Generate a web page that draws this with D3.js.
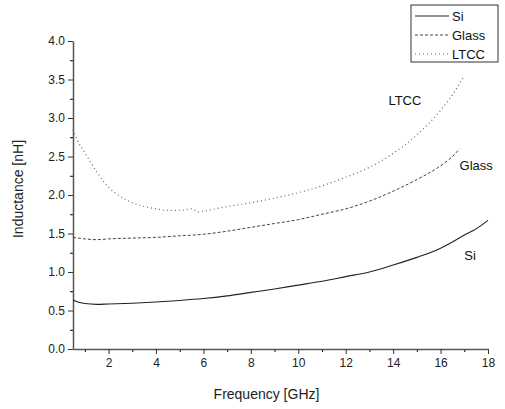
<!DOCTYPE html>
<html>
<head>
<meta charset="utf-8">
<script src="https://cdn.jsdelivr.net/npm/d3@7"></script>
<style>
  body { margin: 0; background: #fff; }
  svg { font-family: "Liberation Sans", Arial, sans-serif; }
</style>
</head>
<body>
<svg id="chart" width="505" height="409"></svg>
<script>
// frequency (GHz) and inductance (nH)
var siFreq   = [0.5, 0.7, 1.0, 1.5, 2, 3, 4, 5, 6, 7, 8, 9, 10, 11, 12, 13, 14, 15, 16, 16.5, 17, 17.5, 18];
var siL      = [0.64, 0.61, 0.59, 0.58, 0.585, 0.595, 0.61, 0.63, 0.655, 0.69, 0.735, 0.78, 0.83, 0.88, 0.94, 1.0, 1.09, 1.19, 1.31, 1.39, 1.48, 1.56, 1.67];
var glassFreq = [0.5, 1.0, 1.5, 2, 3, 4, 5, 6, 7, 8, 9, 10, 11, 12, 13, 14, 15, 16, 16.5, 16.8];
var glassL    = [1.45, 1.43, 1.42, 1.43, 1.44, 1.45, 1.47, 1.49, 1.53, 1.58, 1.63, 1.68, 1.75, 1.82, 1.92, 2.05, 2.2, 2.38, 2.5, 2.6];
var ltccFreq = [0.5, 0.7, 1.0, 1.5, 2, 2.5, 3, 3.5, 4, 4.5, 5, 5.5, 5.8, 6, 7, 8, 9, 10, 11, 12, 13, 14, 15, 16, 16.5, 17];
var ltccL    = [2.85, 2.7, 2.55, 2.3, 2.1, 1.98, 1.9, 1.85, 1.82, 1.8, 1.8, 1.82, 1.78, 1.79, 1.85, 1.9, 1.96, 2.03, 2.12, 2.23, 2.36, 2.54, 2.78, 3.1, 3.3, 3.55];
var seriesNames = ['Si', 'Glass', 'LTCC'];
var xTicks = [2, 4, 6, 8, 10, 12, 14, 16, 18];
var yTicks = [0.0, 0.5, 1.0, 1.5, 2.0, 2.5, 3.0, 3.5, 4.0];

var svg = d3.select('#chart');
var margin = { left: 73, right: 17, top: 41, bottom: 60 };
var width = 505 - margin.left - margin.right;
var height = 409 - margin.top - margin.bottom;

var xScale = d3.scaleLinear().domain([0.5, 18]).range([0, width]);
var yScale = d3.scaleLinear().domain([0, 4]).range([height, 0]);

var g = svg.append('g').attr('transform', `translate(${margin.left},${margin.top})`);

// minor ticks
var xMinor = d3.range(1, 18, 2);
var yMinor = d3.range(0.25, 4, 0.5);
g.append('g').attr('transform', `translate(0,${height})`)
  .call(d3.axisBottom(xScale).tickValues(xMinor).tickSize(3).tickFormat(''))
  .call(a => a.select('.domain').remove());
g.append('g')
  .call(d3.axisLeft(yScale).tickValues(yMinor).tickSize(3).tickFormat(''))
  .call(a => a.select('.domain').remove());

// main axes
var xAxis = g.append('g').attr('transform', `translate(0,${height})`)
  .call(d3.axisBottom(xScale).tickValues(xTicks).tickSize(5).tickSizeOuter(0).tickPadding(4));
var yAxis = g.append('g')
  .call(d3.axisLeft(yScale).tickValues(yTicks).tickSize(5).tickSizeOuter(0).tickPadding(3)
    .tickFormat(d3.format('.1f')));
[xAxis, yAxis].forEach(a => {
  a.selectAll('text').style('font-size', '12px').attr('fill', '#222');
  a.selectAll('line').attr('stroke', '#333');
  a.select('.domain').attr('stroke', '#555').attr('stroke-width', 1.5);
});

// curves
var styles = [
  { stroke: '#222', dash: null, width: 1.1 },
  { stroke: '#444', dash: '3,2', width: 1 },
  { stroke: '#666', dash: '1,3', width: 1.2 }
];
var sets = [
  d3.zip(siFreq, siL),
  d3.zip(glassFreq, glassL),
  d3.zip(ltccFreq, ltccL)
];
var line = d3.line()
  .x(d => xScale(d[0]))
  .y(d => yScale(d[1]))
  .curve(d3.curveMonotoneX);
sets.forEach((s, i) => {
  g.append('path')
    .datum(s)
    .attr('fill', 'none')
    .attr('stroke', styles[i].stroke)
    .attr('stroke-width', styles[i].width)
    .attr('stroke-dasharray', styles[i].dash)
    .attr('d', line);
});

// in-plot labels
var labelPos = [[17.0, 1.15], [16.8, 2.32], [13.8, 3.17]];
seriesNames.forEach((n, i) => {
  g.append('text')
    .attr('x', xScale(labelPos[i][0]))
    .attr('y', yScale(labelPos[i][1]))
    .style('font-size', '13px')
    .attr('fill', '#111')
    .text(n);
});

// axis titles
svg.append('text')
  .attr('x', margin.left + width / 2 - 14)
  .attr('y', 399)
  .attr('text-anchor', 'middle')
  .style('font-size', '14px')
  .attr('fill', '#222')
  .text('Frequency [GHz]');
svg.append('text')
  .attr('transform', 'rotate(-90)')
  .attr('x', -189)
  .attr('y', 23)
  .attr('text-anchor', 'middle')
  .style('font-size', '14px')
  .attr('fill', '#222')
  .text('Inductance [nH]');

// legend
var lg = svg.append('g').attr('transform', 'translate(411,5)');
lg.append('rect')
  .attr('width', 87).attr('height', 57)
  .attr('fill', '#fff').attr('stroke', '#333').attr('stroke-width', 1);
seriesNames.forEach((n, i) => {
  var y = 11 + i * 19;
  lg.append('line')
    .attr('x1', 4).attr('x2', 38).attr('y1', y).attr('y2', y)
    .attr('stroke', styles[i].stroke)
    .attr('stroke-width', styles[i].width)
    .attr('stroke-dasharray', styles[i].dash);
  lg.append('text')
    .attr('x', 41).attr('y', y + 5)
    .style('font-size', '13px')
    .attr('fill', '#111')
    .text(n);
});
</script>
</body>
</html>
